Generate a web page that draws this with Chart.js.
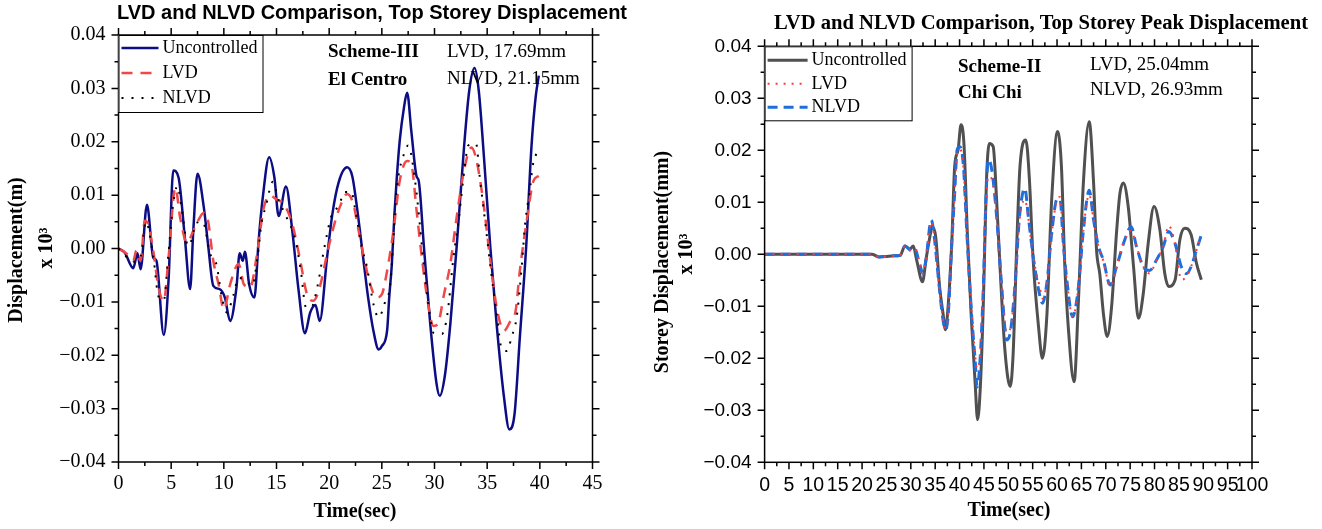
<!DOCTYPE html>
<html>
<head>
<meta charset="utf-8">
<script src="https://cdn.jsdelivr.net/npm/chart.js@4.4.1/dist/chart.umd.min.js"></script>
<style>
  body { margin: 0; background: #fff; width: 1322px; height: 529px; overflow: hidden; position: relative; }
  canvas { position: absolute; top: 0; }
  #leftChart { left: 0; }
  #rightChart { left: 640px; }
</style>
</head>
<body>
<canvas id="leftChart" width="640" height="529"></canvas>
<canvas id="rightChart" width="682" height="529"></canvas>
<script>
// values are displacement x 10^-3 (tick labels divide by 1000)

// El Centro, Scheme-III
const elUncT = [0, 0.6, 1.4, 1.8, 2.1, 2.7, 3.3, 3.6, 4.3, 4.75, 5.2, 5.7, 6.3, 6.8, 7.1, 7.5, 8.1, 8.5, 9.0, 9.6, 10.1, 10.6, 11.2, 11.5, 11.8, 12.0, 12.4, 12.9, 13.3, 13.7, 14.3, 14.8, 15.2, 15.9, 16.5, 17.1, 17.7, 18.2, 18.7, 19.1, 19.8, 20.3, 20.9, 21.7, 22.2, 22.6, 23.3, 23.7, 24.2, 24.7, 25.0, 25.5, 25.7, 25.95, 26.2, 26.4, 26.7, 27.1, 27.4, 27.8, 28.3, 28.5, 29.0, 29.6, 30.2, 30.5, 31.0, 31.5, 32.1, 32.8, 33.3, 33.8, 34.2, 34.7, 35.3, 35.9, 36.6, 37.1, 37.6, 38.1, 38.7, 39.2, 39.6, 39.9];
const elUncV = [0, -0.8, -3.7, -0.9, -3.9, 8.2, -1.7, -2.3, -16.2, -6, 14.6, 13.3, 2, -7.6, 3.3, 14, 7.7, 0.8, -7, -7.6, -9.2, -13.6, -7.3, -0.9, -2.3, -0.6, -6.7, -9.2, 1.4, 9.6, 17.1, 13.3, 6.1, 11.6, 3.3, -7.9, -15.9, -12, -10.6, -13.6, -1.7, 6.4, 12.4, 15.2, 13.5, 8.3, -2.9, -9.2, -15.4, -18.9, -18.3, -15.4, -9.2, -2.9, 6.5, 12.7, 20.2, 26.4, 29.2, 22, 13.5, 12.7, 0.2, -14.2, -25.4, -27.6, -23.6, -14.2, 0.2, 18.9, 29.6, 33.8, 29.6, 17, 0.2, -14.2, -27.9, -33.9, -31, -16.7, 0.2, 18.9, 28.3, 32.4];

const elLvdT = [0, 0.8, 1.4, 1.7, 2.1, 2.5, 2.8, 3.3, 3.8, 4.3, 4.75, 5.4, 5.85, 6.5, 7.1, 7.5, 8.1, 8.5, 9.0, 9.5, 10.0, 10.6, 11.4, 11.9, 12.5, 13.1, 13.8, 14.4, 15.0, 15.7, 16.5, 17.2, 17.9, 18.5, 19.1, 19.8, 20.4, 21.0, 21.7, 22.3, 22.8, 23.3, 23.9, 24.5, 25.0, 25.5, 26.1, 26.7, 27.4, 27.8, 28.3, 28.8, 29.3, 29.9, 30.3, 30.9, 31.5, 32.1, 32.8, 33.5, 34.0, 34.7, 35.3, 35.9, 36.6, 37.2, 37.7, 38.1, 38.8, 39.4, 39.9];
const elLvdV = [0, -1, -2.3, -0.4, -2.3, 5.2, 4.6, -0.4, -7.3, -9.8, -1.7, 11.4, 5.8, 1.1, 3.3, 5, 6.7, 5.2, -2.3, -6.7, -11.4, -6.7, -2.9, -6.7, -7.3, -1.7, 7.7, 9.9, 9.2, 8.3, 4.6, -1.7, -8.6, -9.8, -7.3, -1, 3.9, 7.7, 10.2, 8.3, 3.3, -1.7, -6.7, -9.2, -8.6, -4.2, 3.3, 12.7, 16.4, 15.8, 7.1, -1.7, -9.2, -14.5, -14.2, -8.6, -2.9, 5.8, 14.6, 18.9, 16.4, 7.7, -2.3, -11, -15.4, -13.6, -11.7, -4.2, 5.8, 12.7, 13.6];

const elNlvdT = [0, 1.5, 2.1, 2.6, 3.3, 3.8, 4.3, 4.7, 5.2, 5.6, 6.0, 6.6, 7.0, 7.3, 8.0, 8.7, 9.3, 9.8, 10.3, 10.9, 11.4, 12.1, 12.7, 13.2, 13.6, 14.0, 14.65, 15.2, 15.8, 16.8, 17.3, 17.8, 18.3, 18.9, 19.5, 20.2, 20.9, 21.5, 22.1, 22.5, 23.1, 23.6, 24.2, 24.7, 25.3, 25.8, 26.4, 27.2, 27.5, 28.2, 28.6, 29.1, 29.6, 29.9, 30.7, 31.2, 31.8, 32.3, 32.9, 33.2, 33.95, 34.3, 34.8, 35.4, 35.9, 36.4, 36.9, 37.3, 37.8, 38.3, 38.6, 39.1, 39.3, 39.7];
const elNlvdV = [0, -2.5, -1.5, 5, -1.5, -9, -9.7, -2, 8.5, 11.7, 7.5, 0.5, 2, 4.7, 5, -1, -3, -9, -12, -8.8, -5.5, -6, -7, -1.5, 5, 8, 12.5, 9, 6.5, 1.5, -4, -11, -11, -7, -0.3, 6, 8, 10.6, 10.6, 7, 0.2, -3.6, -10.4, -12.9, -10.1, -6.7, 10.8, 18.3, 19.3, 12, 4.6, -5.4, -12.9, -15.8, -16, -12.6, -1.7, 5.5, 15.8, 19.3, 19.6, 13.3, 5.2, -4.8, -12.3, -18.9, -19.2, -16.7, -12.9, -2.9, 4.6, 11.7, 15.2, 18];

// Chi Chi, Scheme-II
const ccUncT = [0, 10, 20, 22, 23.5, 25, 26.5, 27.8, 28.8, 29.8, 30.5, 31.2, 32.4, 33.1, 33.8, 34.4, 35.1, 35.9, 36.6, 37.1, 37.7, 38.4, 39.0, 39.7, 40.3, 40.9, 41.6, 42.4, 43.2, 43.7, 44.3, 44.9, 45.5, 46.1, 46.9, 47.6, 48.3, 49.3, 50.4, 51.0, 51.7, 52.4, 53.6, 54.3, 55.1, 56.2, 57.0, 57.9, 58.9, 60.1, 60.9, 61.6, 62.3, 63.5, 64.4, 65.4, 66.6, 67.5, 68.1, 68.8, 69.5, 70.3, 71.2, 72.2, 72.9, 73.6, 74.6, 75.7, 76.7, 77.7, 78.7, 79.9, 81.1, 82.1, 82.9, 84.2, 85.2, 86.2, 87.5, 88.6, 89.6];
const ccUncV = [0, 0, 0, 0, -0.5, -0.4, -0.3, -0.2, 1.6, 1.0, 1.6, -1.1, -5.3, -1.1, 2.8, 5.3, 3.4, -6.2, -11.3, -14.5, -9.4, 2.2, 16.9, 20.1, 24.9, 21.3, 4.0, -12, -24.8, -31.8, -24.8, -8.7, 13.7, 21.3, 20.7, 10.5, -2.4, -18.4, -25.4, -19, 0.9, 16.9, 22, 14.9, -1.1, -13.9, -20, -12, 10.5, 23.6, 16.9, -2.4, -13.9, -24.5, -8.7, 13.7, 25.5, 13.7, 0.9, -4, -11.3, -15.8, -10, 4.1, 11.7, 13.7, 9.2, -2.4, -12.3, -7.5, 2.1, 9.2, 4.7, -3.7, -6.2, -5, 2.8, 5.0, 3.8, -1.7, -4.9];

const ccLvdT = [0, 10, 20, 22, 23.5, 26.5, 27.8, 28.8, 30.1, 30.8, 31.8, 32.5, 33.1, 34.2, 34.8, 35.9, 36.6, 37.1, 37.7, 38.4, 39.0, 39.5, 40.1, 40.8, 41.5, 42.5, 43.2, 43.6, 44.2, 44.9, 45.4, 45.9, 46.6, 47.6, 48.6, 49.7, 50.5, 51.4, 52.3, 53.4, 54.1, 55.1, 56.5, 57.0, 57.9, 58.9, 60.0, 60.6, 61.3, 62.0, 63.2, 64.4, 65.4, 66.6, 67.5, 68.5, 69.5, 70.9, 72.2, 73.9, 75.2, 76.3, 77.7, 79.0, 80.4, 81.8, 82.9, 84.2, 85.5, 86.6, 87.5, 88.6, 89.6];
const ccLvdV = [0, 0, 0, 0, -0.5, -0.3, -0.2, 1.6, 0.7, 1.1, -1.8, -3.7, -1.1, 6.3, 3.4, -6.9, -12.6, -14.2, -11.3, 2.2, 11.5, 19.5, 20.2, 16.5, 4, -11.5, -19.5, -22, -19.5, -5.6, 9.5, 15, 14.5, 7.3, -5.6, -15, -14, -5.6, 6.5, 10.5, 7, -0.4, -6.5, -8.5, -5.6, 4, 10.5, 11, 2, -4.9, -12, -6.2, 4.6, 11.5, 6.6, 1.5, -1.3, -6.2, -2.4, 2.8, 4.6, 1.5, -2.4, -3.7, -1.1, 1.5, 5.5, 2.1, -4.9, -4.2, -2.4, 0.8, 3.5];

const ccNlvdT = [0, 10, 20, 22, 23.5, 26.5, 27.8, 28.8, 30.1, 30.8, 31.8, 32.5, 33.1, 34.2, 34.8, 35.9, 36.6, 37.1, 37.7, 38.4, 39.0, 39.5, 40.1, 40.8, 41.5, 42.5, 43.2, 43.6, 44.2, 44.9, 45.4, 45.9, 46.6, 47.6, 48.6, 49.7, 50.5, 51.4, 52.3, 53.4, 54.1, 55.1, 56.5, 57.0, 57.9, 58.9, 60.0, 60.6, 61.3, 62.0, 63.2, 64.4, 65.4, 66.6, 67.5, 68.5, 69.5, 70.9, 72.2, 73.9, 75.2, 76.3, 77.7, 79.0, 80.4, 81.8, 82.9, 84.2, 85.5, 86.6, 87.5, 88.6, 89.6];
const ccNlvdV = [0, 0, 0, 0, -0.5, -0.3, -0.2, 1.6, 0.7, 1.1, -1.8, -3.7, -1.1, 6.6, 3.4, -6.9, -12.6, -14.5, -11.3, 2.2, 11.8, 20.1, 20.7, 16.9, 4, -12, -20.4, -25.5, -20.4, -5.6, 10.4, 18.2, 16.3, 7.3, -5.6, -16.5, -14.5, -5.6, 7.3, 12.7, 7.3, -0.4, -8.1, -9.4, -5.6, 4, 10.6, 10.6, 2, -4.9, -12.0, -6.2, 4.6, 12.3, 6.6, 1.5, -1.1, -5.9, -2.4, 2.8, 5.3, 1.5, -2.4, -3.1, -1.1, 1.5, 4.4, 2.1, -2.4, -3.7, -2.4, 0.8, 3.7];

const seriesNames = ['Uncontrolled', 'LVD', 'NLVD'];

const SERIF = '"Liberation Serif", "Times New Roman", serif';
const SANS = '"Liberation Sans", Arial, sans-serif';

function pts(ts, vs) {
    return ts.map((t, i) => ({ x: t, y: vs[i] }));
}

function fmtY(v) {
    if (Math.abs(v) < 1e-9) return '0.00';
    return (v / 1000).toFixed(2).replace('-', '\u2212');
}

// frame with outward major/minor ticks on all four sides
const frameTicks = {
    id: 'frameTicks',
    afterDatasetsDraw(chart, args, opts) {
        const { ctx, chartArea: a, scales: { x, y } } = chart;
        ctx.save();
        ctx.strokeStyle = '#000';
        ctx.lineWidth = 1.5;
        ctx.strokeRect(a.left, a.top, a.right - a.left, a.bottom - a.top);
        ctx.beginPath();
        let k = 0;
        for (let v = x.min; v <= x.max + 1e-6; v += opts.xMinor, k++) {
            const px = x.getPixelForValue(v);
            const len = k % 2 === 0 ? 7 : 4;
            ctx.moveTo(px, a.bottom); ctx.lineTo(px, a.bottom + len);
            ctx.moveTo(px, a.top); ctx.lineTo(px, a.top - len);
        }
        k = 0;
        for (let v = y.min; v <= y.max + 1e-6; v += opts.yMinor, k++) {
            const py = y.getPixelForValue(v);
            const len = k % 2 === 0 ? 7 : 4;
            ctx.moveTo(a.left, py); ctx.lineTo(a.left - len, py);
            ctx.moveTo(a.right, py); ctx.lineTo(a.right + len, py);
        }
        ctx.stroke();
        ctx.restore();
    }
};

// legend box sitting in the top-left corner of the plot
const boxLegend = {
    id: 'boxLegend',
    afterDatasetsDraw(chart, args, opts) {
        const { ctx, chartArea: a } = chart;
        ctx.save();
        ctx.fillStyle = '#fff';
        ctx.fillRect(a.left, a.top, opts.width, opts.height);
        ctx.strokeStyle = '#000';
        ctx.lineWidth = 1;
        ctx.strokeRect(a.left + 0.5, a.top + 0.5, opts.width, opts.height);
        chart.data.datasets.forEach((ds, i) => {
            const yy = a.top + opts.firstRow + i * opts.rowGap;
            ctx.strokeStyle = ds.borderColor;
            ctx.lineWidth = ds.borderWidth;
            ctx.setLineDash(ds.borderDash || []);
            ctx.beginPath();
            ctx.moveTo(a.left + 3, yy);
            ctx.lineTo(a.left + opts.sampleLen, yy);
            ctx.stroke();
            ctx.setLineDash([]);
            ctx.fillStyle = '#000';
            ctx.font = opts.font;
            ctx.textBaseline = 'middle';
            ctx.textAlign = 'left';
            ctx.fillText(ds.label, a.left + opts.sampleLen + 4, yy);
        });
        ctx.restore();
    }
};

// titles, axis titles and the scheme notes
const textItems = {
    id: 'textItems',
    afterDraw(chart, args, opts) {
        const ctx = chart.ctx;
        (opts.items || []).forEach(it => {
            ctx.save();
            ctx.font = it.font;
            ctx.fillStyle = '#000';
            ctx.textAlign = it.align || 'left';
            ctx.textBaseline = 'middle';
            ctx.translate(it.x, it.y);
            if (it.rotate) ctx.rotate(it.rotate);
            ctx.fillText(it.text, 0, 0);
            ctx.restore();
        });
    }
};

function makeChart(id, cfg) {
    return new Chart(document.getElementById(id), {
        type: 'line',
        data: { datasets: cfg.datasets },
        options: {
            responsive: false,
            animation: false,
            devicePixelRatio: 1,
            layout: { autoPadding: false, padding: cfg.padding },
            elements: { point: { radius: 0 }, line: { cubicInterpolationMode: 'monotone' } },
            scales: {
                x: {
                    type: 'linear', min: 0, max: cfg.xMax,
                    grid: { display: false, drawTicks: false },
                    border: { display: false },
                    afterFit: s => { s.height = cfg.xHeight; },
                    ticks: {
                        stepSize: 5, autoSkip: false, maxRotation: 0, minRotation: 0,
                        padding: cfg.xPad, color: '#000',
                        font: { family: cfg.tickFont, size: cfg.xTickSize }
                    }
                },
                y: {
                    min: -40, max: 40,
                    grid: { display: false, drawTicks: false },
                    border: { display: false },
                    afterFit: s => { s.width = cfg.yWidth; },
                    ticks: {
                        stepSize: 10, padding: 13, color: '#000',
                        font: { family: cfg.tickFont, size: cfg.yTickSize },
                        callback: fmtY
                    }
                }
            },
            plugins: {
                legend: { display: false },
                title: { display: false },
                tooltip: { enabled: false },
                frameTicks: { xMinor: 2.5, yMinor: 5 },
                boxLegend: cfg.legend,
                textItems: { items: cfg.texts }
            }
        },
        plugins: [frameTicks, boxLegend, textItems]
    });
}

makeChart('leftChart', {
    xMax: 45,
    padding: { left: 0, top: 35, right: 47.5, bottom: 0 },
    yWidth: 118.5, xHeight: 67, xPad: 10,
    tickFont: SERIF, xTickSize: 20, yTickSize: 20,
    datasets: [
        { label: seriesNames[0], data: pts(elUncT, elUncV), borderColor: '#0c0c84', borderWidth: 2.5, order: 3 },
        { label: seriesNames[1], data: pts(elLvdT, elLvdV), borderColor: '#f04848', borderWidth: 2.5, borderDash: [11, 8], order: 2 },
        { label: seriesNames[2], data: pts(elNlvdT, elNlvdV), borderColor: '#000000', borderWidth: 2, borderDash: [2, 8], order: 1 }
    ],
    legend: { width: 144, height: 77, firstRow: 13, rowGap: 25, sampleLen: 40, font: '18px ' + SERIF },
    texts: [
        { text: 'LVD and NLVD Comparison, Top Storey Displacement', x: 372, y: 13, align: 'center', font: 'bold 20px ' + SANS },
        { text: 'Scheme-III', x: 328, y: 52, font: 'bold 19px ' + SERIF },
        { text: 'El Centro', x: 328, y: 80, font: 'bold 19px ' + SERIF },
        { text: 'LVD, 17.69mm', x: 447, y: 52, font: '19px ' + SERIF },
        { text: 'NLVD, 21.15mm', x: 447, y: 79, font: '19px ' + SERIF },
        { text: 'Time(sec)', x: 355, y: 512, align: 'center', font: 'bold 20px ' + SERIF },
        { text: 'Displacement(m)', x: 17, y: 250, align: 'center', rotate: -Math.PI / 2, font: 'bold 20px ' + SERIF },
        { text: 'x 10\u00b3', x: 47, y: 248, align: 'center', rotate: -Math.PI / 2, font: 'bold 20px ' + SERIF }
    ]
});

makeChart('rightChart', {
    xMax: 100,
    padding: { left: 0, top: 46.3, right: 70, bottom: 0 },
    yWidth: 124.6, xHeight: 66.7, xPad: 12,
    tickFont: SANS, xTickSize: 19.5, yTickSize: 19,
    datasets: [
        { label: seriesNames[0], data: pts(ccUncT, ccUncV), borderColor: '#505050', borderWidth: 3, order: 3 },
        { label: seriesNames[1], data: pts(ccLvdT, ccLvdV), borderColor: '#ff3b3b', borderWidth: 2, borderDash: [2, 6], order: 1 },
        { label: seriesNames[2], data: pts(ccNlvdT, ccNlvdV), borderColor: '#1e6fdc', borderWidth: 3, borderDash: [10, 6], order: 2 }
    ],
    legend: { width: 147, height: 74, firstRow: 14, rowGap: 23.5, sampleLen: 43, font: '18px ' + SERIF },
    texts: [
        { text: 'LVD and NLVD Comparison, Top Storey Peak Displacement', x: 401, y: 24, align: 'center', font: 'bold 20.6px ' + SERIF },
        { text: 'Scheme-II', x: 318, y: 67, font: 'bold 19px ' + SERIF },
        { text: 'Chi Chi', x: 318, y: 93, font: 'bold 19px ' + SERIF },
        { text: 'LVD, 25.04mm', x: 450, y: 65, font: '19px ' + SERIF },
        { text: 'NLVD, 26.93mm', x: 450, y: 90, font: '19px ' + SERIF },
        { text: 'Time(sec)', x: 369, y: 511, align: 'center', font: 'bold 20px ' + SERIF },
        { text: 'Storey Displacement(mm)', x: 23, y: 262, align: 'center', rotate: -Math.PI / 2, font: 'bold 20px ' + SERIF },
        { text: 'x 10\u00b3', x: 47, y: 254, align: 'center', rotate: -Math.PI / 2, font: 'bold 20px ' + SERIF }
    ]
});
</script>
</body>
</html>
